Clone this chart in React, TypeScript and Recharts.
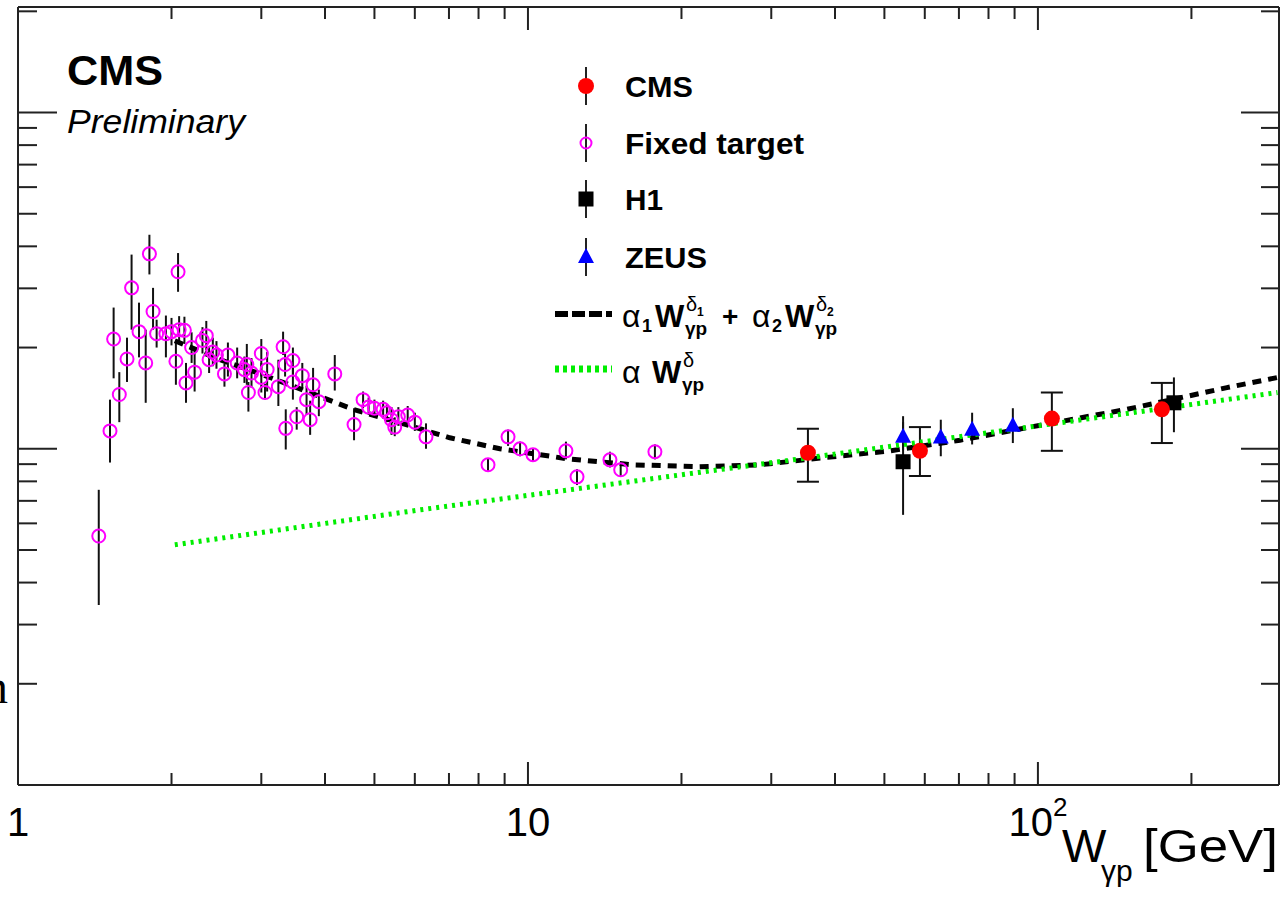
import React from 'react';
import { ComposedChart, Scatter, Line, XAxis, YAxis, ErrorBar, ReferenceLine } from 'recharts';

// axis ranges (log-log)
const X_MIN = 1;
const X_MAX = 297;
const Y_MIN = 1;
const Y_MAX = 206;
const xTicks = [1, 2, 3, 4, 5, 6, 7, 8, 9, 10, 20, 30, 40, 50, 60, 70, 80, 90, 100, 200];
const yTicks = [1, 2, 3, 4, 5, 6, 7, 8, 9, 10, 20, 30, 40, 50, 60, 70, 80, 90, 100, 200];

// Fixed target data
const ftW = [1.44, 1.515, 1.54, 1.58, 1.636, 1.67, 1.727, 1.78, 1.81, 1.84, 1.87, 1.95, 2.0, 2.04, 2.06, 2.07, 2.12, 2.135, 2.19, 2.22, 2.3, 2.34, 2.37, 2.41, 2.45, 2.54, 2.58, 2.69, 2.78, 2.81, 2.83, 2.87, 3.0, 3.0, 3.05, 3.08, 3.24, 3.31, 3.34, 3.35, 3.46, 3.46, 3.52, 3.61, 3.68, 3.74, 3.79, 3.89, 4.18, 4.56, 4.75, 4.87, 5.0, 5.2, 5.29, 5.4, 5.48, 5.57, 5.81, 6.0, 6.31, 8.35, 9.14, 9.65, 10.23, 11.87, 12.48, 14.48, 15.2, 17.74];
const ftSigma = [5.5, 11.3, 21.2, 14.5, 18.5, 30.1, 22.3, 18.0, 38.0, 25.6, 22.0, 22.0, 22.3, 18.2, 33.6, 22.6, 22.5, 15.7, 20.0, 16.9, 21.0, 21.7, 18.4, 19.4, 19.0, 16.7, 19.0, 18.0, 17.2, 17.8, 14.7, 16.8, 19.2, 16.3, 14.7, 17.2, 15.3, 20.1, 17.8, 11.5, 18.3, 15.8, 12.45, 16.5, 14.0, 12.2, 15.5, 13.8, 16.7, 11.8, 14.0, 13.3, 13.2, 13.1, 12.8, 12.2, 11.6, 12.45, 12.6, 12.0, 10.85, 8.96, 10.85, 10.0, 9.6, 9.86, 8.25, 9.27, 8.66, 9.8];
const ftLow = [3.43, 9.1, 16.2, 12.0, 15.8, 22.6, 18.7, 13.7, 33.0, 22.6, 20.0, 18.7, 20.3, 15.5, 29.3, 20.6, 20.5, 13.7, 18.0, 14.8, 19.2, 19.6, 16.8, 17.6, 17.3, 15.3, 16.4, 16.2, 15.7, 15.5, 12.9, 15.2, 16.4, 14.7, 14.0, 14.8, 13.4, 19.0, 16.4, 9.95, 16.4, 14.0, 11.4, 15.0, 12.6, 11.0, 14.0, 12.5, 14.9, 10.6, 13.2, 12.6, 12.4, 12.3, 12.0, 11.0, 10.9, 11.7, 11.9, 11.3, 10.0, 8.6, 10.2, 9.5, 9.2, 9.3, 7.8, 8.8, 8.3, 9.3];
const ftHigh = [7.55, 14.0, 26.3, 16.9, 21.4, 37.8, 27.2, 22.6, 43.3, 30.1, 24.2, 24.9, 24.5, 20.8, 38.2, 24.8, 24.7, 18.0, 22.2, 20.0, 23.0, 24.0, 20.2, 21.4, 20.9, 17.9, 20.7, 20.0, 18.8, 20.5, 15.8, 18.6, 21.2, 18.0, 15.6, 19.4, 18.4, 22.3, 19.2, 13.1, 20.0, 17.4, 13.3, 18.0, 15.4, 13.9, 17.4, 15.0, 19.0, 13.2, 14.8, 14.2, 14.0, 13.9, 13.6, 13.3, 12.4, 13.3, 13.4, 12.8, 11.9, 9.35, 11.4, 10.5, 10.0, 10.5, 8.7, 9.8, 9.1, 10.3];

// CMS
const cmsW = [35.4, 58.7, 106.5, 175];
const cmsSigma = [9.73, 9.86, 12.3, 13.1];
const cmsLow = [7.98, 8.3, 9.86, 10.4];
const cmsHigh = [11.47, 11.6, 14.7, 15.7];

// H1
const h1W = [54.4, 184.8];
const h1Sigma = [9.15, 13.7];
const h1Low = [6.36, 11.2];
const h1High = [12.5, 16.3];

// ZEUS
const zeusW = [54.4, 64.5, 74.3, 89.3];
const zeusSigma = [10.85, 10.8, 11.4, 11.7];
const zeusLow = [9.9, 9.5, 10.3, 10.4];
const zeusHigh = [12.0, 12.2, 12.8, 13.2];

// fit curves
const fit2W = [2.03, 2.49, 3.02, 3.69, 4.54, 5.61, 7.03, 8.81, 11.93, 16.07, 21.7, 28.5, 37.9, 51.3, 70.3, 95.1, 149.5, 234.8, 295.5];
const fit2S = [20.96, 18.4, 16.6, 14.8, 13.1, 11.95, 10.78, 10.0, 9.34, 8.96, 8.84, 8.96, 9.4, 9.86, 10.6, 11.55, 13.1, 15.2, 16.3];
const fit1W = [2.03, 6.14, 35.4, 295];
const fit1S = [5.18, 6.58, 9.4, 14.7];

const FONT = '"Liberation Sans", Arial, Helvetica, sans-serif';
const AXIS = '#222';
const GREEN = '#00ee00';
const PLOT_TOP = 7;
const PLOT_RIGHT = 1279;

const toRows = (w: number[], s: number[], lo: number[], hi: number[]) =>
  w.map((wv, i) => ({ w: wv, s: s[i], err: [s[i] - lo[i], hi[i] - s[i]] }));
const toCurve = (w: number[], s: number[]) => w.map((wv, i) => ({ w: wv, s: s[i] }));

const ftData = toRows(ftW, ftSigma, ftLow, ftHigh);
const cmsData = toRows(cmsW, cmsSigma, cmsLow, cmsHigh);
const h1Data = toRows(h1W, h1Sigma, h1Low, h1High);
const zeusData = toRows(zeusW, zeusSigma, zeusLow, zeusHigh);
const fit2Data = toCurve(fit2W, fit2S);
const fit1Data = toCurve(fit1W, fit1S);

const isDecade = (v: number) => Math.abs(Math.log10(v) - Math.round(Math.log10(v))) < 1e-6;

const XTick = (props: any) => {
  const { x, y, payload } = props;
  const v = payload.value;
  const major = isDecade(v);
  const len = major ? 23 : 12;
  return (
    <g>
      <line x1={x} y1={y} x2={x} y2={y - len} stroke={AXIS} strokeWidth={2} />
      <line x1={x} y1={PLOT_TOP} x2={x} y2={PLOT_TOP + len} stroke={AXIS} strokeWidth={2} />
      {major && (
        <text x={x} y={y + 51} textAnchor="middle" fontFamily={FONT} fontSize={40} fill="#000">
          {v === 100 ? (
            <>
              10<tspan dy={-20} fontSize={26}>2</tspan>
            </>
          ) : (
            String(v)
          )}
        </text>
      )}
    </g>
  );
};

const YTick = (props: any) => {
  const { x, y, payload } = props;
  const major = isDecade(payload.value);
  return (
    <g>
      <line x1={x} y1={y} x2={x + (major ? 39 : 19)} y2={y} stroke={AXIS} strokeWidth={2} />
      <line x1={PLOT_RIGHT} y1={y} x2={PLOT_RIGHT - (major ? 38 : 18)} y2={y} stroke={AXIS} strokeWidth={2} />
    </g>
  );
};

const CmsMark = ({ cx, cy }: any) => <circle cx={cx} cy={cy} r={8} fill="#ff0000" />;
const FixedMark = ({ cx, cy, r = 6.5 }: any) => (
  <circle cx={cx} cy={cy} r={r} fill="none" stroke="#ff00ff" strokeWidth={2} />
);
const H1Mark = ({ cx, cy }: any) => <rect x={cx - 7.5} y={cy - 7.5} width={15} height={15} fill="#000" />;
const ZeusMark = ({ cx, cy }: any) => (
  <polygon points={`${cx},${cy - 9} ${cx + 8},${cy + 6} ${cx - 8},${cy + 6}`} fill="#0000ff" />
);

const LegendRow = ({ y, label, width, children }: any) => (
  <g>
    <line x1={586} y1={y - 19} x2={586} y2={y + 19} stroke="#222" strokeWidth={2} />
    {children}
    <text x={625} y={y + 11} fontFamily={FONT} fontWeight="bold" fontSize={30} textLength={width} lengthAdjust="spacingAndGlyphs">
      {label}
    </text>
  </g>
);

// one "alpha_i W^delta_i_gammap" group of the legend formula
const Term = ({ x, y, idx }: any) => (
  <g fontFamily={FONT} fill="#000">
    <text x={x} y={y} fontSize={32}>α</text>
    {idx && <text x={x + 20} y={y + 5} fontSize={18} fontWeight="bold">{idx}</text>}
    <text x={x + (idx ? 33 : 30)} y={y} fontSize={31} fontWeight="bold">W</text>
    <text x={x + (idx ? 64 : 61)} y={y - 16} fontSize={20}>δ</text>
    {idx && <text x={x + 75} y={y - 11} fontSize={12} fontWeight="bold">{idx}</text>}
    <text x={x + (idx ? 63 : 60)} y={y + 8} fontSize={19} fontWeight="bold">γp</text>
  </g>
);

const Overlay = () => (
  <svg width={1282} height={900} style={{ position: 'absolute', left: 0, top: 0, pointerEvents: 'none' }}>
    <text x={67} y={85} fontFamily={FONT} fontWeight="bold" fontSize={43} textLength={96} lengthAdjust="spacingAndGlyphs">CMS</text>
    <text x={67} y={133} fontFamily={FONT} fontStyle="italic" fontSize={33} textLength={178} lengthAdjust="spacingAndGlyphs">Preliminary</text>

    <LegendRow y={86} label="CMS" width={68}><CmsMark cx={586} cy={86} /></LegendRow>
    <LegendRow y={143} label="Fixed target" width={179}><FixedMark cx={586} cy={143} r={5.5} /></LegendRow>
    <LegendRow y={199} label="H1" width={38}><H1Mark cx={586} cy={199} /></LegendRow>
    <LegendRow y={257} label="ZEUS" width={82}><ZeusMark cx={586} cy={257} /></LegendRow>

    <line x1={555} y1={314} x2={612} y2={314} stroke="#000" strokeWidth={6} strokeDasharray="13 4" />
    <Term x={622} y={327} idx="1" />
    <text x={722} y={326} fontFamily={FONT} fontSize={28} fontWeight="bold">+</text>
    <Term x={752} y={327} idx="2" />

    <line x1={555} y1={369} x2={612} y2={369} stroke={GREEN} strokeWidth={7} strokeDasharray="4 4" />
    <Term x={622} y={383} />

    <text x={1062} y={862} fontFamily={FONT} fontSize={47}>W</text>
    <text x={1101} y={881} fontFamily={FONT} fontSize={30}>γp</text>
    <text x={1143} y={862} fontFamily={FONT} fontSize={47} textLength={135} lengthAdjust="spacingAndGlyphs">[GeV]</text>

    <text x={-16} y={703} fontFamily="serif" fontSize={48}>n</text>
  </svg>
);

export default function App() {
  return (
    <div style={{ position: 'absolute', left: 0, top: 0, width: 1282, height: 900, background: '#fff' }}>
      <ComposedChart width={1282} height={900} margin={{ top: PLOT_TOP, right: 3, bottom: 0, left: 0 }}>
        <XAxis
          dataKey="w"
          type="number"
          scale="log"
          domain={[X_MIN, X_MAX]}
          allowDataOverflow
          ticks={xTicks}
          interval={0}
          height={115}
          tickSize={0}
          tickMargin={0}
          tickLine={false}
          axisLine={{ stroke: AXIS, strokeWidth: 2 }}
          tick={(p: any) => <XTick {...p} />}
        />
        <YAxis
          dataKey="s"
          type="number"
          scale="log"
          domain={[Y_MIN, Y_MAX]}
          allowDataOverflow
          ticks={yTicks}
          interval={0}
          width={18}
          tickSize={0}
          tickMargin={0}
          tickLine={false}
          axisLine={{ stroke: AXIS, strokeWidth: 2 }}
          tick={(p: any) => <YTick {...p} />}
        />
        <ReferenceLine y={Y_MAX} stroke={AXIS} strokeWidth={2} />
        <ReferenceLine x={X_MAX} stroke={AXIS} strokeWidth={2} />

        <Scatter data={ftData} dataKey="s" shape={(p: any) => <FixedMark cx={p.cx} cy={p.cy} />} isAnimationActive={false}>
          <ErrorBar dataKey="err" direction="y" width={0} stroke="#111" strokeWidth={2} />
        </Scatter>
        <Scatter data={h1Data} dataKey="s" shape={(p: any) => <H1Mark cx={p.cx} cy={p.cy} />} isAnimationActive={false}>
          <ErrorBar dataKey="err" direction="y" width={0} stroke="#111" strokeWidth={2} />
        </Scatter>
        <Scatter data={zeusData} dataKey="s" shape={(p: any) => <ZeusMark cx={p.cx} cy={p.cy} />} isAnimationActive={false}>
          <ErrorBar dataKey="err" direction="y" width={0} stroke="#111" strokeWidth={2} />
        </Scatter>
        <Scatter data={cmsData} dataKey="s" shape={(p: any) => <CmsMark cx={p.cx} cy={p.cy} />} isAnimationActive={false}>
          <ErrorBar dataKey="err" direction="y" width={11} stroke="#111" strokeWidth={2} />
        </Scatter>

        <Line data={fit2Data} dataKey="s" type="linear" stroke="#000" strokeWidth={5} strokeDasharray="9 7" dot={false} activeDot={false} isAnimationActive={false} />
        <Line data={fit1Data} dataKey="s" type="linear" stroke={GREEN} strokeWidth={5} strokeDasharray="3 5" dot={false} activeDot={false} isAnimationActive={false} />
      </ComposedChart>
      <Overlay />
    </div>
  );
}
